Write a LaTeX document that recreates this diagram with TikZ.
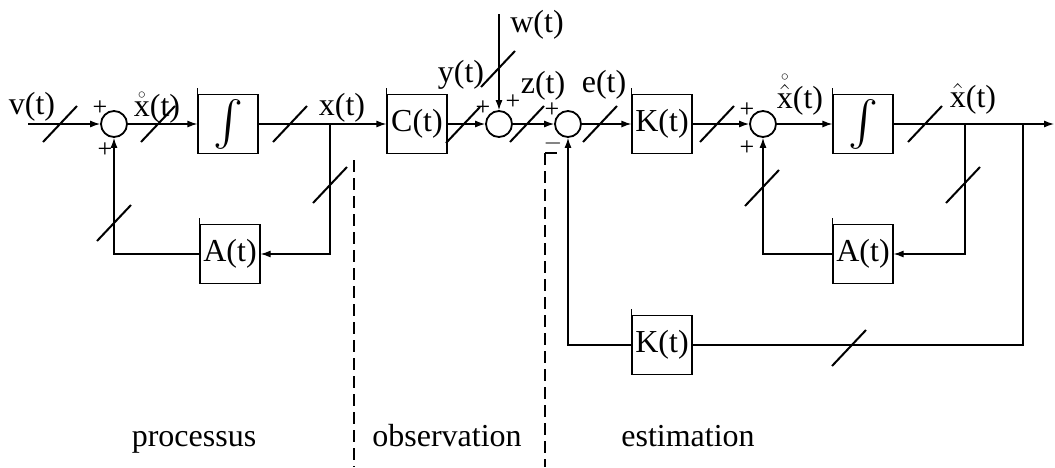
\documentclass[tikz,border=0pt]{standalone}
\usepackage{fontspec}
\setmainfont{Liberation Serif}
\usepackage{amsmath}
\usetikzlibrary{arrows.meta}

\begin{document}
\begin{tikzpicture}[x=0.5pt, y=-0.5pt, every node/.style={font=\fontsize{16}{19}\selectfont}]
	\tikzstyle{blk}=[rectangle, draw=black, line width=0.6pt, minimum width=30pt, minimum height=29.5pt, inner sep=0pt]
	\tikzstyle{sumc}=[circle, draw=black, line width=0.9pt, minimum size=13pt, inner sep=0pt]
	\tikzstyle{sig}=[line width=0.6pt]
	\tikzstyle{sigarr}=[sig, -{Latex[length=5pt, width=3.5pt]}]
	\tikzstyle{bus}=[line width=1pt]
	\tikzstyle{sgn}=[font=\fontsize{13}{15}\selectfont, inner sep=0pt]
	\tikzstyle{lbl}=[anchor=base, inner sep=0pt]
	\tikzstyle{zone}=[line width=1pt, dash pattern=on 6pt off 3pt]

	\useasboundingbox (0,0) rectangle (1055,467);

	% blocks
	\node (int1) at (228,124) [blk] {\scalebox{1.3}{$\int$}};
	\node (A1) at (230,254) [blk] {A(t)};
	\node (C) at (417,124) [blk] {C(t)};
	\node (K1) at (662,124) [blk] {K(t)};
	\node (int2) at (863,124) [blk] {\scalebox{1.3}{$\int$}};
	\node (A2) at (863,254) [blk] {A(t)};
	\node (K2) at (662,345) [blk] {K(t)};
	\foreach \b in {int1,A1,C,K1,int2,A2,K2}
		\draw[sig] (\b.north west) -- ++(0,-6);

	% summing points
	\node (s1) at (114,124) [sumc]{};
	\node (s2) at (499,124) [sumc]{};
	\node (s3) at (568,124) [sumc]{};
	\node (s4) at (763,124) [sumc]{};

	\coordinate (vin) at (28,124);
	\coordinate (win) at (499,14);
	\coordinate (bx1) at (330,124);
	\coordinate (bx2) at (965,124);
	\coordinate (bx3) at (1023,124);
	\coordinate (out) at (1054,124);

	% processus
	\draw[sigarr] (vin) -- (s1);
	\draw[sigarr] (s1) -- (int1);
	\draw[sigarr] (int1) -- (bx1) -- (C);
	\draw[sigarr] (bx1) |- (A1);
	\draw[sigarr] (A1) -| (s1);

	% observation
	\draw[sigarr] (C) -- (s2);
	\draw[sigarr] (win) -- (s2);
	\draw[sigarr] (s2) -- (s3);

	% estimation
	\draw[sigarr] (s3) -- (K1);
	\draw[sigarr] (K1) -- (s4);
	\draw[sigarr] (s4) -- (int2);
	\draw[sigarr] (int2) -- (bx2) -- (bx3) -- (out);
	\draw[sigarr] (bx2) |- (A2);
	\draw[sigarr] (A2) -| (s4);
	\draw[sig] (bx3) |- (K2);
	\draw[sigarr] (K2) -| (s3);

	% bus marks
	\foreach \p in {(60,124),(158,124),(290,124),(330,185),(114,223),(463,125),(498,69),(527,124),(600,124),(717,124),(925,124),(963,185),(762,188),(849,348)}
		\draw[bus] \p ++(-17,18) -- ++(34,-36);

	% signals
	\node (lv) at (32,114) [lbl] {v(t)};
	\node (lxd) at (157,116) [lbl] {$\mathring{\text{x}}$(t)};
	\node (lx) at (342,115) [lbl] {x(t)};
	\node (ly) at (461,82) [lbl] {y(t)};
	\node (lw) at (537,32) [lbl] {w(t)};
	\node (lz) at (543,93) [lbl] {z(t)};
	\node (le) at (604,92) [lbl] {e(t)};
	\node (lhd) at (800,108) [lbl] {$\mathring{\hat{\text{x}}}$(t)};
	\node (lh) at (973,107) [lbl] {$\hat{\text{x}}$(t)};

	% signs
	\node at (100,108) [sgn] {+};
	\node at (105,150) [sgn] {+};
	\node at (483,108) [sgn] {+};
	\node at (513,102) [sgn] {+};
	\node at (552,110) [sgn] {+};
	\node at (553,143) [sgn] {$-$};
	\node at (747,110) [sgn] {+};
	\node at (747,148) [sgn] {+};

	% zones
	\coordinate (d1) at (354,160);
	\coordinate (d2) at (545,153);
	\draw[zone] (d1) -- (354,467);
	\draw[zone] (d2) -- (545,467);
	\draw[sig] (d2) -- ++(12,0);
	\node (pr) at (194,446) [lbl] {processus};
	\node (ob) at (447,446) [lbl] {observation};
	\node (es) at (688,446) [lbl] {estimation};
\end{tikzpicture}
\end{document}
